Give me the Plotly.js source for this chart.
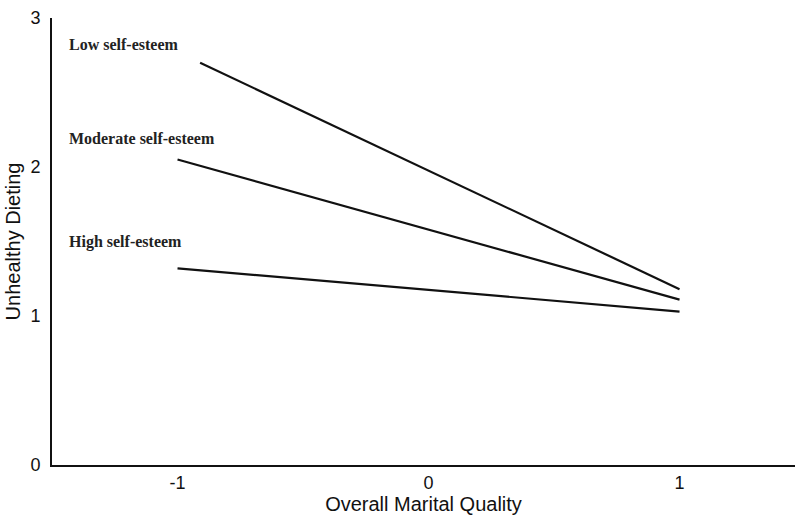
<!DOCTYPE html>
<html><head><meta charset="utf-8">
<script src="https://cdn.plot.ly/plotly-3.0.1.min.js"></script>
<style>html,body{margin:0;padding:0;background:#fff}</style>
</head><body><div id="chart" style="width:800px;height:522px"></div>
<script>
const groups = ["Low self-esteem", "Moderate self-esteem", "High self-esteem"];
const xStart = [-0.91, -1, -1];
const xEnd = [1, 1, 1];
const yStart = [2.70, 2.05, 1.32];
const yEnd = [1.18, 1.11, 1.03];
const labelX = [-1.44, -1.44, -1.44];
const labelY = [2.82, 2.19, 1.50];
const xTicks = [-1, 0, 1];
const yTicks = [0, 1, 2, 3];

const traces = groups.map((g, i) => ({
  x: [xStart[i], xEnd[i]], y: [yStart[i], yEnd[i]],
  mode: 'lines', type: 'scatter', name: g,
  line: {color: '#111', width: 2.2}, hoverinfo: 'skip'
}));

const annotations = groups.map((g, i) => ({
  x: labelX[i], y: labelY[i], text: '<b>' + g + '</b>', showarrow: false,
  xanchor: 'left', yanchor: 'middle',
  font: {family: 'Liberation Serif, Times New Roman, serif', size: 16, color: '#222'}
}));

const sans = 'Liberation Sans, Arial, sans-serif';
const layout = {
  width: 800, height: 522,
  margin: {l: 52, r: 5, t: 18, b: 57},
  showlegend: false,
  paper_bgcolor: '#fff', plot_bgcolor: '#fff',
  xaxis: {
    range: [-1.5, 1.46], tickvals: xTicks, ticktext: xTicks.map(String),
    showgrid: false, zeroline: false, showline: true, linecolor: '#111', linewidth: 2,
    ticks: '', ticklabelstandoff: 0,
    tickfont: {family: sans, size: 18, color: '#111'},
    title: {text: 'Overall Marital Quality', standoff: 0,
      font: {family: sans, size: 20, color: '#111'}}
  },
  yaxis: {
    range: [0, 3], tickvals: yTicks, ticktext: yTicks.map(String),
    showgrid: false, zeroline: false, showline: true, linecolor: '#111', linewidth: 2,
    ticks: '', ticklabelstandoff: 6,
    tickfont: {family: sans, size: 18, color: '#111'},
    title: {text: 'Unhealthy Dieting', standoff: 4,
      font: {family: sans, size: 20, color: '#111'}}
  },
  annotations: annotations
};

Plotly.newPlot('chart', traces, layout, {displayModeBar: false, staticPlot: true});
</script></body></html>
